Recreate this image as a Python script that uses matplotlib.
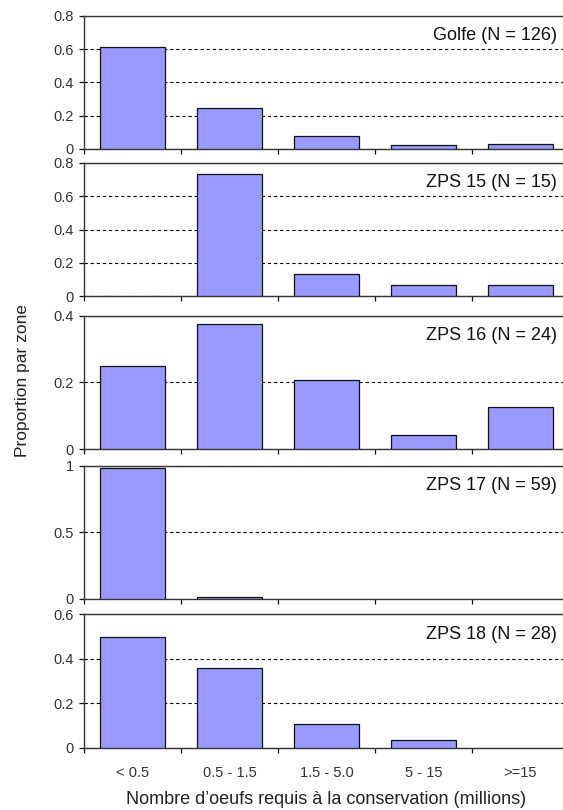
import numpy as np
import matplotlib.pyplot as plt

plt.rcParams['font.family'] = ['Liberation Sans', 'DejaVu Sans']

categories = ["< 0.5", "0.5 - 1.5", "1.5 - 5.0", "5 - 15", ">=15"]
zones = ["Golfe (N = 126)", "ZPS 15 (N = 15)", "ZPS 16 (N = 24)",
         "ZPS 17 (N = 59)", "ZPS 18 (N = 28)"]

golfe = [0.611, 0.246, 0.076, 0.024, 0.032]
zps15 = [0.0, 0.733, 0.133, 0.067, 0.067]
zps16 = [0.25, 0.375, 0.208, 0.042, 0.125]
zps17 = [0.983, 0.017, 0.0, 0.0, 0.0]
zps18 = [0.5, 0.357, 0.107, 0.036, 0.0]

y_max = [0.8, 0.8, 0.4, 1.0, 0.6]
y_ticks = [[0, 0.2, 0.4, 0.6, 0.8], [0, 0.2, 0.4, 0.6, 0.8], [0, 0.2, 0.4],
           [0, 0.5, 1], [0, 0.2, 0.4, 0.6]]
y_ticklabels = [["0", "0.2", "0.4", "0.6", "0.8"], ["0", "0.2", "0.4", "0.6", "0.8"],
                ["0", "0.2", "0.4"], ["0", "0.5", "1"], ["0", "0.2", "0.4", "0.6"]]

series = [golfe, zps15, zps16, zps17, zps18]

W, H = 563, 810
fig = plt.figure(figsize=(W / 100, H / 100), dpi=100)

# panel bottoms in pixels (from top of the image)
panel_bottoms = [149, 296.3, 449, 599, 747.7]
panel_h = 133.3
left_px, width_px = 84, 485

x = np.arange(len(categories))
bar_col = "#9999ff"

for i, vals in enumerate(series):
    ax = fig.add_axes([left_px / W, 1 - panel_bottoms[i] / H, width_px / W, panel_h / H])
    # empty classes get no outline, like the original
    lws = [0.9 if v > 0 else 0 for v in vals]
    ax.bar(x, vals, width=0.66, color=bar_col, edgecolor="#111111", linewidth=lws, zorder=3)
    ax.set_xlim(-0.5, 4.5)
    ax.set_ylim(0, y_max[i])
    ax.set_yticks(y_ticks[i])
    ax.set_yticklabels(y_ticklabels[i])
    ax.yaxis.grid(True, color="black", linestyle=(0, (3, 2.5)), linewidth=0.8)
    ax.set_axisbelow(True)

    ax.set_xticks(np.arange(-0.5, 4.0, 1.0))
    ax.set_xticklabels([])
    ax.tick_params(axis="both", direction="out", length=3.5, width=0.9,
                   color="#111111", labelsize=10.5, labelcolor="#333333", pad=4)
    for side in ["left", "bottom", "top"]:
        ax.spines[side].set_color("#333333")
        ax.spines[side].set_linewidth(1.0)
    ax.spines["right"].set_visible(False)

    ax.text(0.975, 0.85, zones[i], transform=ax.transAxes, ha="right", va="center",
            fontsize=13, color="#111111")

    if i == len(series) - 1:
        ax.set_xticks(x, minor=True)
        ax.set_xticklabels(categories, minor=True)
        ax.tick_params(axis="x", which="minor", length=0, pad=13,
                       labelsize=10.5, labelcolor="#333333")

fig.text(22 / W, 1 - 381 / H, "Proportion par zone", rotation=90, ha="center",
         va="center", fontsize=12.5, color="#222222")
fig.text((84 + 485 / 2) / W, 1 - 800 / H,
         "Nombre d\u2019oeufs requis \u00e0 la conservation (millions)",
         ha="center", va="center", fontsize=13, color="#222222")

fig.savefig("out.png", dpi=100)
